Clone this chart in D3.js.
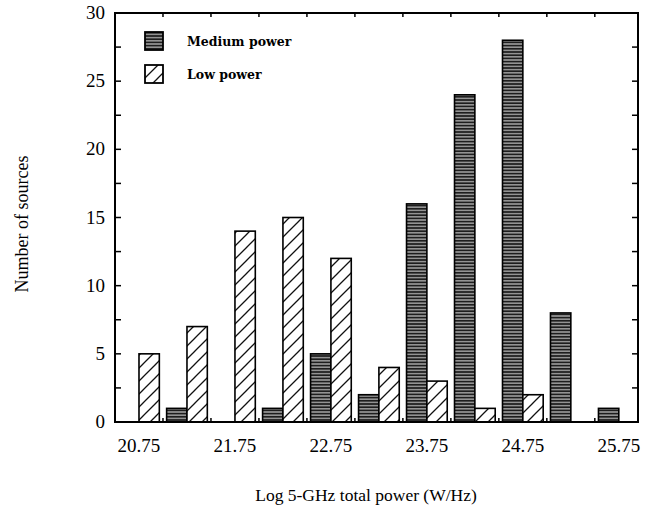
<!DOCTYPE html>
<html>
<head>
<meta charset="utf-8">
<script src="https://cdn.jsdelivr.net/npm/d3@7"></script>
<style>
  body { margin: 0; background: #fff; }
  svg { display: block; }
</style>
</head>
<body>
<div id="chart"></div>
<script>
// bin centres (log W/Hz) and counts per bin
var binCentres = [20.75, 21.25, 21.75, 22.25, 22.75, 23.25, 23.75, 24.25, 24.75, 25.25, 25.75];
var mediumPower = [0, 1, 0, 1, 5, 2, 16, 24, 28, 8, 1];
var lowPower = [5, 7, 14, 15, 12, 4, 3, 1, 2, 0, 0];
var xTickLabels = [20.75, 21.75, 22.75, 23.75, 24.75, 25.75];
var xMinorTicks = [21.0, 21.5, 22.0, 22.5, 23.0, 23.5, 24.0, 24.5, 25.0, 25.5];
var yTickLabels = [0, 5, 10, 15, 20, 25, 30];
var yMinorTicks = [2.5, 7.5, 12.5, 17.5, 22.5, 27.5];
var seriesNames = ["Medium power", "Low power"];

var W = 649, H = 508;
// plot box (note: "top" is reserved on window, so prefixed)
var pLeft = 115, pRight = 638, pTop = 13, pBottom = 422;

var svg = d3.select("#chart").append("svg")
    .attr("width", W)
    .attr("height", H);

var x = d3.scaleLinear().domain([20.5, 25.95]).range([pLeft, pRight]);
var y = d3.scaleLinear().domain([0, 30]).range([pBottom, pTop]);
var barW = 0.212; // in data units

// patterns
var defs = svg.append("defs");
var stripes = defs.append("pattern")
    .attr("id", "stripes")
    .attr("patternUnits", "userSpaceOnUse")
    .attr("width", 6).attr("height", 3.2);
stripes.append("rect").attr("width", 6).attr("height", 3.2).attr("fill", "#1e1e1e");
stripes.append("rect").attr("y", 1.9).attr("width", 6).attr("height", 1).attr("fill", "#d8d8d8");

var hatch = defs.append("pattern")
    .attr("id", "hatch")
    .attr("patternUnits", "userSpaceOnUse")
    .attr("width", 13).attr("height", 13);
hatch.append("rect").attr("width", 13).attr("height", 13).attr("fill", "#fff");
hatch.append("path")
    .attr("d", "M0,13 L13,0 M-3,3 L3,-3 M10,16 L16,10")
    .attr("stroke", "#111").attr("stroke-width", 1.3);

// bars
var medData = binCentres.map(function(c, i) { return {c: c, v: mediumPower[i]}; })
    .filter(function(d) { return d.v > 0; });
var lowData = binCentres.map(function(c, i) { return {c: c, v: lowPower[i]}; })
    .filter(function(d) { return d.v > 0; });

svg.selectAll("rect.med")
    .data(medData)
    .enter().append("rect")
    .attr("class", "med")
    .attr("x", function(d) { return x(d.c - barW); })
    .attr("y", function(d) { return y(d.v); })
    .attr("width", function(d) { return x(d.c) - x(d.c - barW); })
    .attr("height", function(d) { return y(0) - y(d.v); })
    .attr("fill", "url(#stripes)")
    .attr("stroke", "#000")
    .attr("stroke-width", 1.6);

svg.selectAll("rect.low")
    .data(lowData)
    .enter().append("rect")
    .attr("class", "low")
    .attr("x", function(d) { return x(d.c); })
    .attr("y", function(d) { return y(d.v); })
    .attr("width", function(d) { return x(d.c + barW) - x(d.c); })
    .attr("height", function(d) { return y(0) - y(d.v); })
    .attr("fill", "url(#hatch)")
    .attr("stroke", "#000")
    .attr("stroke-width", 1.6);

// frame
svg.append("rect")
    .attr("x", pLeft).attr("y", pTop)
    .attr("width", pRight - pLeft).attr("height", pBottom - pTop)
    .attr("fill", "none")
    .attr("stroke", "#000")
    .attr("stroke-width", 2);

// ticks (inward on all four sides)
var tk = 6, tkx = 4;
svg.selectAll("line.xb")
    .data(xMinorTicks)
    .enter().append("line")
    .attr("x1", function(d) { return x(d); }).attr("x2", function(d) { return x(d); })
    .attr("y1", pBottom).attr("y2", pBottom - tkx)
    .attr("stroke", "#000").attr("stroke-width", 1.5);
svg.selectAll("line.xt")
    .data(xMinorTicks)
    .enter().append("line")
    .attr("x1", function(d) { return x(d); }).attr("x2", function(d) { return x(d); })
    .attr("y1", pTop).attr("y2", pTop + tkx)
    .attr("stroke", "#000").attr("stroke-width", 1.5);

var yTicks = yTickLabels.concat(yMinorTicks);
svg.selectAll("line.yl")
    .data(yTicks)
    .enter().append("line")
    .attr("x1", pLeft).attr("x2", pLeft + tk)
    .attr("y1", function(d) { return y(d); }).attr("y2", function(d) { return y(d); })
    .attr("stroke", "#000").attr("stroke-width", 1.5);
svg.selectAll("line.yr")
    .data(yTicks)
    .enter().append("line")
    .attr("x1", pRight).attr("x2", pRight - tk)
    .attr("y1", function(d) { return y(d); }).attr("y2", function(d) { return y(d); })
    .attr("stroke", "#000").attr("stroke-width", 1.5);

// tick labels
svg.selectAll("text.xl")
    .data(xTickLabels)
    .enter().append("text")
    .attr("x", function(d) { return x(d); })
    .attr("y", 452)
    .attr("text-anchor", "middle")
    .style("font-family", "Liberation Serif, serif")
    .style("font-size", "19px")
    .text(function(d) { return d.toFixed(2); });

svg.selectAll("text.yl")
    .data(yTickLabels)
    .enter().append("text")
    .attr("x", 105)
    .attr("y", function(d) { return y(d) + 6; })
    .attr("text-anchor", "end")
    .style("font-family", "Liberation Serif, serif")
    .style("font-size", "19px")
    .text(function(d) { return d; });

// axis titles
svg.append("text")
    .attr("transform", "translate(28,224) rotate(-90)")
    .attr("text-anchor", "middle")
    .style("font-family", "Liberation Serif, serif")
    .style("font-size", "18px")
    .text("Number of sources");

svg.append("text")
    .attr("x", 366)
    .attr("y", 501)
    .attr("text-anchor", "middle")
    .style("font-family", "Liberation Serif, serif")
    .style("font-size", "17.5px")
    .text("Log 5-GHz total power (W/Hz)");

// legend
var legend = svg.selectAll("g.legend")
    .data(seriesNames)
    .enter().append("g")
    .attr("class", "legend")
    .attr("transform", function(d, i) { return "translate(145," + (32 + i * 33) + ")"; });

legend.append("rect")
    .attr("width", 18).attr("height", 18)
    .attr("fill", function(d, i) { return i === 0 ? "url(#stripes)" : "url(#hatch)"; })
    .attr("stroke", "#000")
    .attr("stroke-width", 1.8);

legend.append("text")
    .attr("x", 42)
    .attr("y", 14)
    .style("font-family", "DejaVu Serif, serif")
    .style("font-size", "12.5px")
    .style("font-weight", "bold")
    .text(function(d) { return d; });
</script>
</body>
</html>
